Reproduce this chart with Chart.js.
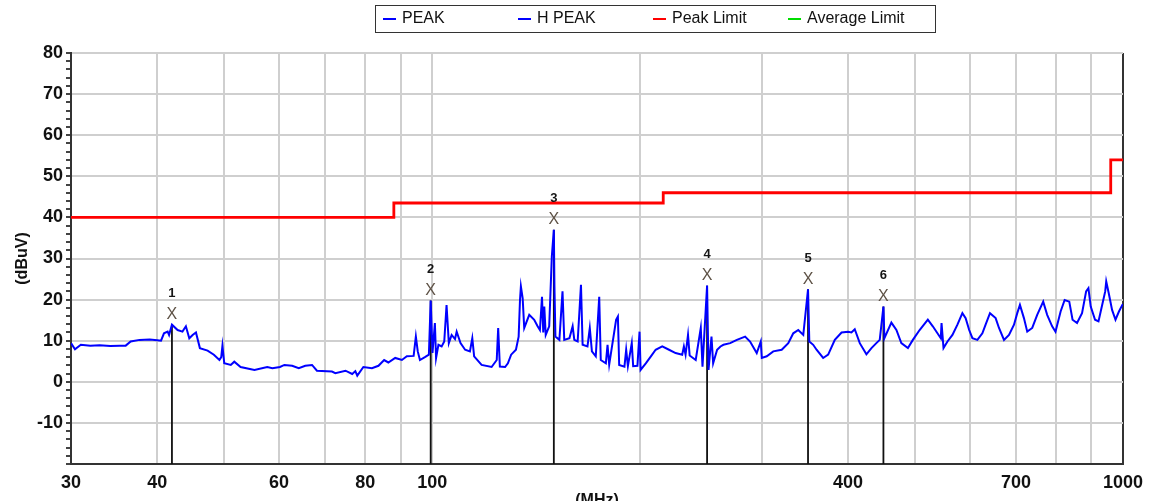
<!DOCTYPE html>
<html>
<head>
<meta charset="utf-8">
<title>Radiated emission scan 30-1000 MHz</title>
<script src="https://cdn.jsdelivr.net/npm/chart.js@4.4.1/dist/chart.umd.min.js"></script>
<style>
  html, body { margin: 0; padding: 0; background: #fff; overflow: hidden; }
  #wrap { width: 1151px; height: 520px; }
</style>
</head>
<body>
<div id="wrap"><canvas id="scan" width="1151" height="520"></canvas></div>
<script>
// H PEAK sweep, frequency in MHz and level in dBuV
const traceFreqs = [
  30.0, 30.4, 31.0, 32.0, 33.0, 34.2, 35.3, 36.0, 36.6, 37.7, 39.0, 40.0, 40.5, 40.9, 41.4, 41.6,
  42.0, 42.8, 43.5, 44.0, 44.5, 45.0, 45.5, 46.1, 47.3, 48.3, 49.2, 49.5, 49.7, 50.0, 51.1, 51.7,
  52.8, 55.3, 57.7, 58.7, 60.2, 61.1,
  62.7, 64.1, 65.5, 67.0, 68.1, 71.6, 72.4, 74.9, 76.6, 77.4, 77.9, 79.5, 81.8, 83.6, 85.2, 86.4,
  88.4, 90.4, 91.9, 94.0, 94.7, 95.3, 96.0, 97.6, 98.9, 99.5, 100.1, 100.9, 101.3, 102.1, 103.2,
  104.1, 104.9, 105.7, 106.7, 107.9, 108.5, 109.9, 111.6, 113.4, 114.3, 115.0, 117.9, 121.9,
  124.0, 124.6, 125.3, 127.5,
  128.7, 130.1, 132.2, 133.4, 134.0, 134.4, 135.2, 135.9, 138.2, 140.5, 142.1, 143.2, 144.2,
  144.8, 145.3, 146.0, 147.7, 149.0, 150.0, 150.3, 150.8, 152.8, 154.4, 155.3, 158.0, 159.7,
  160.6, 162.4, 164.2, 165.1, 167.8, 169.1, 170.3, 172.5, 174.5, 175.4, 178.4, 179.4, 180.4,
  184.6, 185.7, 186.5, 189.8, 190.9, 192.0, 194.5, 195.4, 198.2, 199.6, 200.3, 203.8, 207.3,
  210.6, 215.3, 220.2, 225.1, 230.1, 231.4, 232.7, 234.6, 235.9, 240.7, 244.8, 246.2, 250.0,
  251.2, 253.7, 255.1, 258.5, 261.4,
  264.0, 270.0, 276.1, 283.8, 288.5, 295.0, 299.0, 300.0, 305.0, 311.7, 320.6, 327.7, 333.2,
  338.8, 344.5, 350.0, 351.5, 356.1, 360.1, 368.1, 374.3, 382.7, 391.4, 400.0, 404.5, 409.0,
  415.9, 425.2, 432.4, 439.5, 444.5, 450.0, 451.5, 462.1, 469.9, 477.7, 488.3, 496.4, 507.7,
  521.8, 530.5,
  544.8, 546.2, 549.8, 557.1, 566.4, 575.9, 585.5, 591.9, 598.9, 605.4, 615.5, 625.8, 632.6,
  641.9, 654.1, 661.5, 672.6, 683.9, 695.4, 703.0, 709.3, 718.8, 726.8, 739.0, 751.3, 766.5,
  776.7, 789.7, 798.6, 812.3, 823.3, 836.1, 845.3, 858.0, 872.4, 884.4, 891.2, 898.1, 911.1,
  921.6, 931.9, 942.5, 945.7, 953.5, 964.3, 975.4, 986.6, 997.9, 1000
];
const traceLevels = [
  9.4, 7.9, 9.0, 8.8, 8.9, 8.7, 8.8, 8.8, 9.8, 10.2, 10.3, 10.1, 10.0, 11.8, 12.2, 11.4,
  13.9, 12.6, 12.2, 13.5, 10.6, 11.4, 12.0, 8.2, 7.6, 6.6, 5.3, 6.0, 8.8, 4.5, 4.1, 4.9,
  3.6, 2.9, 3.6, 3.3, 3.6, 4.1,
  3.9, 3.3, 3.9, 4.1, 2.7, 2.5, 2.1, 2.7, 1.9, 2.6, 1.5, 3.6, 3.3, 3.9, 5.3, 4.7,
  5.8, 5.3, 6.2, 6.3, 11.0, 7.4, 5.3, 6.0, 6.6, 19.8, 7.0, 14.3, 5.8, 9.0, 8.6,
  9.8, 18.7, 9.4, 11.4, 10.4, 12.2, 9.4, 7.8, 7.4, 10.6, 6.2, 4.1, 3.6,
  5.3, 13.1, 3.7, 3.6,
  4.5, 6.6, 7.8, 11.0, 19.9, 23.2, 20.3, 13.1, 16.3, 15.1, 13.5, 12.6, 20.7,
  12.0, 18.3, 11.4, 13.5, 30.5, 37.0, 23.2, 11.0, 10.2, 22.0, 10.2, 10.6, 13.5,
  10.2, 9.8, 23.6, 9.0, 8.6, 13.1, 7.4, 6.2, 20.7, 5.3, 4.5, 9.0, 4.2,
  15.1, 15.9, 4.1, 3.7, 7.8, 3.8, 9.4, 3.8, 3.9, 12.2, 2.9, 4.5, 6.2,
  7.8, 8.6, 7.8, 7.0, 6.6, 8.6, 6.6, 11.4, 6.4, 5.3, 13.1, 3.7, 23.4,
  2.9, 11.0, 4.5, 7.8, 8.6,
  9.0, 9.4, 10.2, 11.0, 9.8, 7.0, 9.8, 5.8, 6.2, 7.4, 7.8, 9.4, 11.8,
  12.6, 11.4, 22.5, 9.8, 9.0, 7.8, 5.8, 6.6, 10.2, 12.0, 12.2, 12.0, 12.8,
  9.4, 6.7, 8.2, 9.4, 10.2, 18.3, 10.6, 14.4, 12.6, 9.4, 8.2, 10.2, 12.6,
  15.1, 13.5,
  10.6, 14.3, 8.2, 9.8, 11.4, 13.9, 16.7, 15.5, 12.6, 10.6, 10.2, 11.8, 13.9,
  16.7, 15.5, 13.1, 10.2, 11.4, 13.9, 16.7, 18.7, 15.5, 12.2, 13.1, 16.3, 19.5,
  16.3, 13.5, 12.2, 17.1, 19.9, 19.5, 15.1, 14.3, 16.7, 22.0, 22.8, 18.3, 15.1,
  14.7, 18.3, 22.0, 24.4, 21.6, 17.5, 15.1, 17.1, 18.7, 19.0
];

// FCC class B quasi-peak steps (level holds until the next frequency)
const limitFreqs = [30, 88, 216, 960, 1000];
const limitLevels = [40, 43.5, 46, 54, 54];

// Numbered peak markers
const markerFreqs = [42.0, 99.5, 150.0, 250.0, 350.0, 450.0];
const markerLevels = [13.9, 19.8, 37.0, 23.4, 22.5, 18.3];
const markerNames = ['1', '2', '3', '4', '5', '6'];

// Axes
const xGridValues = [30, 40, 50, 60, 70, 80, 90, 100, 200, 300, 400, 500, 600, 700, 800, 900, 1000];
const xTickLabels = [30, 40, 60, 80, 100, 400, 700, 1000];
const yMin = -20;
const yMax = 80;

const FONT = '"Liberation Sans", Arial, sans-serif';

function toPoints(xs, ys) {
  return xs.map((x, i) => ({ x, y: ys[i] }));
}

function stemPoints() {
  const pts = [];
  markerFreqs.forEach((f, i) => {
    pts.push({ x: f, y: yMin }, { x: f, y: markerLevels[i] }, { x: f, y: null });
  });
  return pts;
}

const markerPlugin = {
  id: 'markers',
  afterDatasetsDraw(chart) {
    const { ctx, scales } = chart;
    ctx.save();
    ctx.textAlign = 'center';
    ctx.textBaseline = 'middle';
    markerFreqs.forEach((f, i) => {
      const px = scales.x.getPixelForValue(f);
      const py = scales.y.getPixelForValue(markerLevels[i]);
      ctx.fillStyle = '#5e5246';
      ctx.font = `16px ${FONT}`;
      ctx.fillText('X', px, py - 10);
      ctx.fillStyle = '#151515';
      ctx.font = `bold 13px ${FONT}`;
      ctx.fillText(markerNames[i], px, py - 31);
    });
    ctx.restore();
  },
};

// boxed legend with fixed-width columns
const legendBoxPlugin = {
  id: 'legendBox',
  afterDraw(chart) {
    const ctx = chart.ctx;
    ctx.save();
    ctx.strokeStyle = '#333';
    ctx.lineWidth = 1;
    ctx.strokeRect(375.5, 5.5, 560, 27);
    ctx.font = `16px ${FONT}`;
    ctx.textAlign = 'left';
    ctx.textBaseline = 'middle';
    chart.data.datasets
      .filter((ds) => ds.inLegend)
      .forEach((ds, i) => {
        const left = 383 + i * 135;
        ctx.strokeStyle = ds.borderColor;
        ctx.lineWidth = 2;
        ctx.beginPath();
        ctx.moveTo(left, 19);
        ctx.lineTo(left + 13, 19);
        ctx.stroke();
        ctx.fillStyle = '#111';
        ctx.fillText(ds.label, left + 19, 19);
      });
    ctx.restore();
  },
};

new Chart(document.getElementById('scan'), {
  type: 'line',
  data: {
    datasets: [
      { label: 'PEAK', data: [], borderColor: '#0000ff', inLegend: true },
      {
        label: 'H PEAK',
        data: toPoints(traceFreqs, traceLevels),
        borderColor: '#0000ff',
        borderWidth: 2,
        pointRadius: 0,
        tension: 0,
        order: 1,
        inLegend: true,
      },
      {
        label: 'Peak Limit',
        data: toPoints(limitFreqs, limitLevels),
        borderColor: '#ff0000',
        borderWidth: 2.8,
        pointRadius: 0,
        stepped: 'before',
        order: 3,
        inLegend: true,
      },
      { label: 'Average Limit', data: [], borderColor: '#00dd00', inLegend: true },
      {
        label: 'markers',
        data: stemPoints(),
        borderColor: '#111',
        borderWidth: 1.8,
        pointRadius: 0,
        spanGaps: false,
        order: 2,
      },
    ],
  },
  options: {
    responsive: false,
    animation: false,
    events: [],
    layout: { padding: { top: 53, right: 25, bottom: 0, left: 0 } },
    plugins: {
      legend: { display: false },
      tooltip: { enabled: false },
    },
    scales: {
      x: {
        type: 'logarithmic',
        min: 30,
        max: 1000,
        afterFit(scale) { scale.height = 56; },
        afterBuildTicks(scale) {
          scale.ticks = xGridValues.map((value) => ({ value }));
        },
        border: { display: true, color: '#333', width: 2 },
        grid: {
          drawTicks: false,
          color: (c) => (c.tick && c.tick.value === 1000 ? '#333' : '#cfcfcf'),
          lineWidth: 2,
        },
        ticks: {
          autoSkip: false,
          maxRotation: 0,
          padding: 8,
          color: '#111',
          font: { family: FONT, size: 18, weight: 'bold' },
          callback: (value) => (xTickLabels.includes(value) ? String(value) : ''),
        },
        title: {
          display: true,
          text: '(MHz)',
          color: '#111',
          font: { family: FONT, size: 16, weight: 'bold' },
          padding: { top: 0, bottom: 10 },
        },
      },
      y: {
        min: yMin,
        max: yMax,
        afterFit(scale) { scale.width = 71; },
        border: { display: true, color: '#333', width: 2 },
        grid: {
          color: (c) => (c.tick && c.tick.value % 10 === 0 ? '#cfcfcf' : 'rgba(0,0,0,0)'),
          tickColor: '#444',
          tickLength: 5,
          lineWidth: 2,
        },
        ticks: {
          stepSize: 2,
          autoSkip: false,
          padding: 3,
          color: '#111',
          font: { family: FONT, size: 18, weight: 'bold' },
          callback: (value) => (value % 10 === 0 && value > yMin ? String(value) : ''),
        },
        title: {
          display: true,
          text: '(dBuV)',
          color: '#111',
          font: { family: FONT, size: 16, weight: 'bold' },
          padding: { top: 13, bottom: 0 },
        },
      },
    },
  },
  plugins: [markerPlugin, legendBoxPlugin],
});
</script>
</body>
</html>
